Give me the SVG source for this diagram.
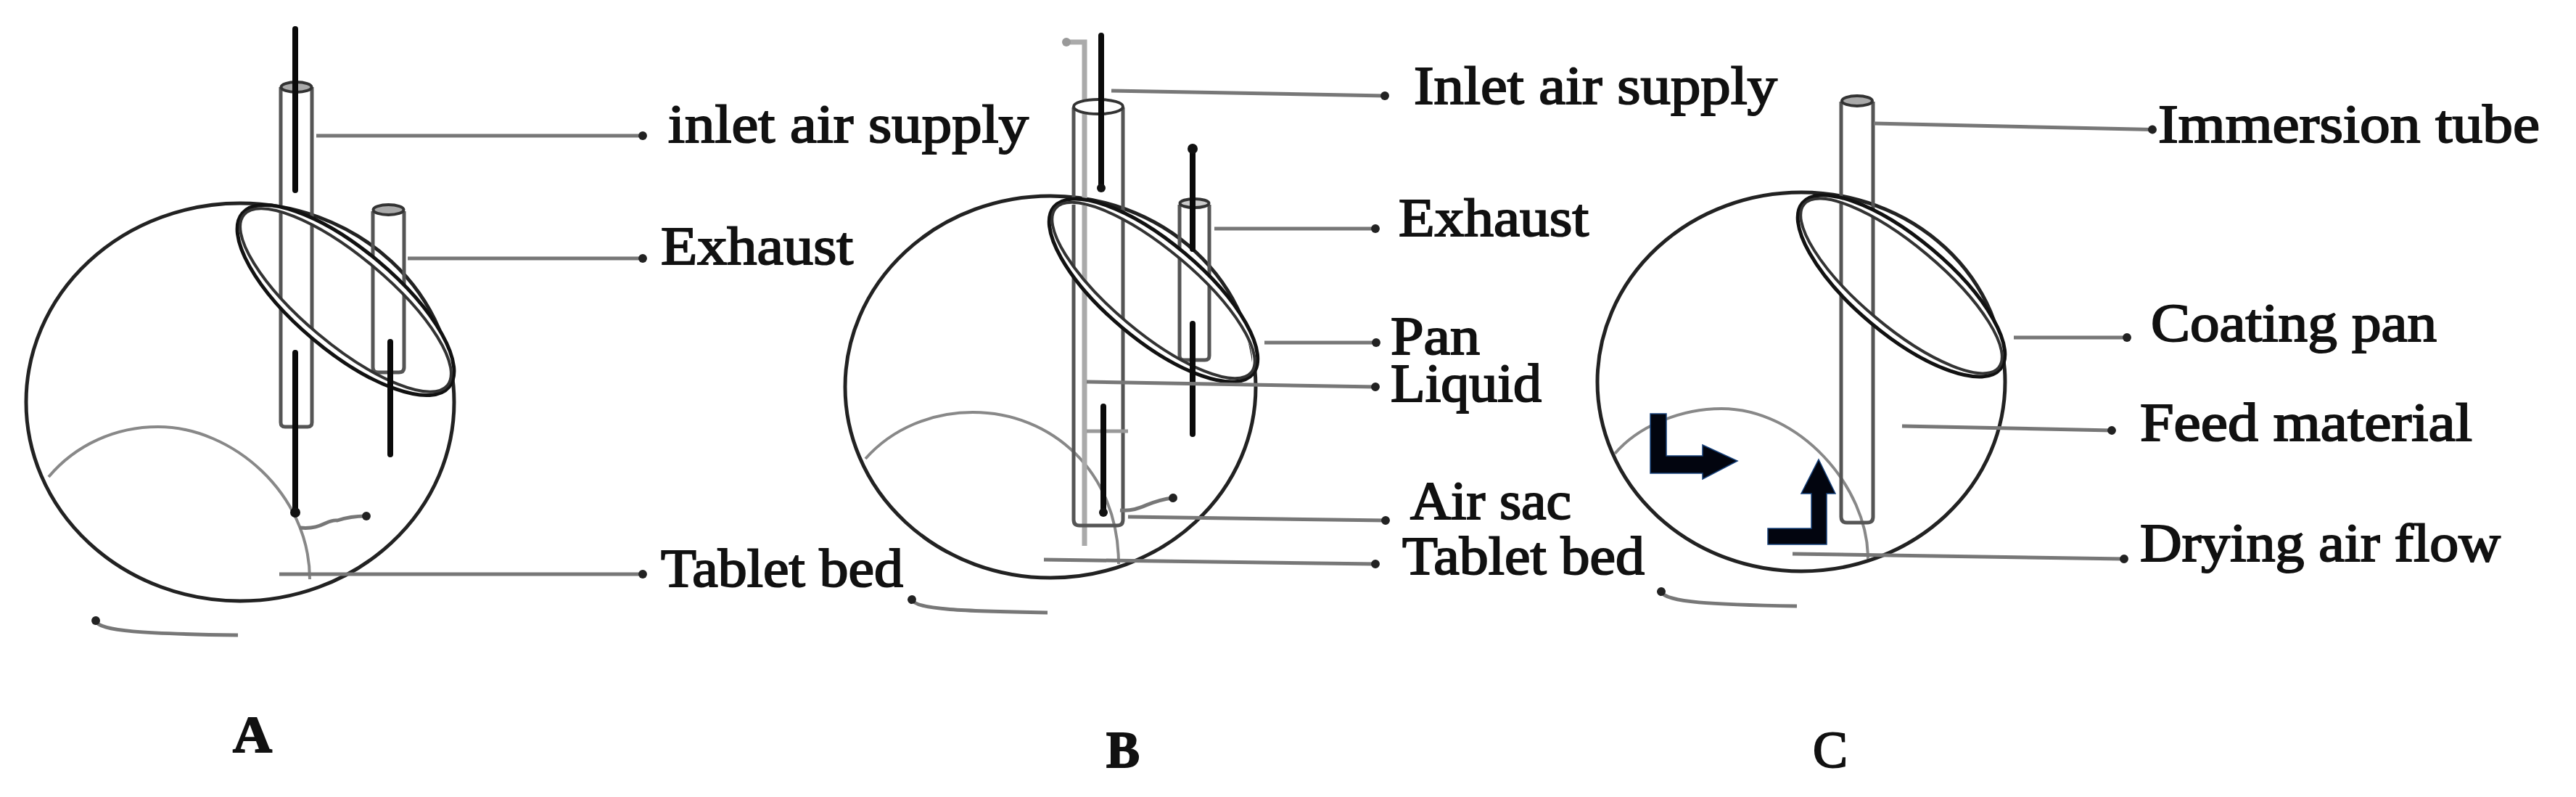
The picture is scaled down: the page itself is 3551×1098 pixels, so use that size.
<svg xmlns="http://www.w3.org/2000/svg" width="3551" height="1098" viewBox="0 0 3551 1098">
<style>
.bg{fill:#fff}
.pan{fill:none;stroke:#222;stroke-width:5}
.tube{fill:none;stroke:#555;stroke-width:5}
.cap{fill:#aaa;stroke:#333;stroke-width:4}
.rod{fill:none;stroke:#0a0a0a;stroke-width:8;stroke-linecap:round}
.arc{fill:none;stroke:#888;stroke-width:4}
.lead{fill:none;stroke:#777;stroke-width:5;marker-end:url(#dot)}
.plain{fill:none;stroke:#aaa;stroke-width:7}
.ringw{fill:none;stroke:#fff;stroke-width:9}
.ring{fill:none;stroke:#111;stroke-width:5}
.ring2{fill:none;stroke:#333;stroke-width:4}
.arrow{fill:#02050f;stroke:#16407a;stroke-width:1.500}
text{font-family:"Liberation Serif","Times New Roman",serif;font-size:74px;fill:#111;stroke:#111;stroke-width:2}
.id{font-size:72px;font-weight:bold}
</style>
<defs>
<marker id="dot" viewBox="-6 -6 12 12" markerUnits="userSpaceOnUse" markerWidth="13" markerHeight="13" refX="0" refY="0" orient="auto"><circle r="5.5" fill="#222"/></marker>
</defs>
<rect class="bg" width="3551" height="1098"/>

<g id="panel-a">
<ellipse class="pan" cx="331" cy="554" rx="295" ry="274"/>
<path class="arc" d="M67 657C105 612 160 588 218 588C320 588 427 680 427 798"/>
<path class="tube" d="M387 120V582Q387 588 393 588H424Q430 588 430 582V120"/>
<ellipse class="cap" cx="408.500" cy="120" rx="21" ry="7"/>
<path class="tube" d="M514 291V506Q514 513 521 513H550Q557 513 557 506V291"/>
<ellipse class="cap" cx="535.500" cy="289" rx="21" ry="7"/>
<g transform="translate(476.500 413.500) rotate(40)"><ellipse class="ringw" rx="183" ry="65"/><ellipse class="ring" rx="186" ry="70"/><ellipse class="ring2" rx="183" ry="60"/></g>
<path class="rod" d="M407 40V262M407 486V706M538 471V626"/>
<circle cx="407" cy="706" r="7" fill="#111"/>
</g>

<g id="panel-b">
<ellipse class="pan" cx="1448" cy="533" rx="283" ry="263"/>
<path class="arc" d="M1193 632C1230 590 1285 568 1341 568C1450 568 1542 650 1542 777"/>
<path class="plain" d="M1468 58H1495V752"/>
<circle cx="1470" cy="58" r="6" fill="#999"/>
<path class="tube" d="M1480 148V716Q1480 724 1488 724H1540Q1548 724 1548 716V148"/>
<ellipse class="cap" style="fill:#fff" cx="1514" cy="147" rx="34" ry="10"/>
<path class="tube" d="M1626 282V490Q1626 496 1632 496H1661Q1667 496 1667 490V282"/>
<ellipse class="cap" style="fill:#ccc" cx="1646.500" cy="280" rx="20" ry="6"/>
<path class="plain" style="stroke:#999;stroke-width:5" d="M1498 594H1555"/>
<g transform="translate(1590 400) rotate(40)"><ellipse class="ringw" rx="176" ry="62"/><ellipse class="ring" rx="179" ry="67"/><ellipse class="ring2" rx="176" ry="57"/></g>
<path class="rod" d="M1518 49V260M1521 560V706M1644 205V343M1644 446V598"/>
<circle cx="1644" cy="205" r="7" fill="#111"/>
<circle cx="1518" cy="259" r="6" fill="#111"/>
<circle cx="1521" cy="706" r="6" fill="#111"/>
</g>

<g id="panel-c">
<ellipse class="pan" cx="2483" cy="526" rx="281" ry="261"/>
<path class="arc" d="M2226 625C2260 585 2320 563 2373 563C2480 563 2575 670 2575 770"/>
<path class="tube" d="M2538 140V712Q2538 720 2546 720H2574Q2582 720 2582 712V140"/>
<ellipse class="cap" cx="2560" cy="139" rx="21" ry="7"/>
<g transform="translate(2621 394) rotate(40)"><ellipse class="ringw" rx="175" ry="61"/><ellipse class="ring" rx="178" ry="66"/><ellipse class="ring2" rx="175" ry="56"/></g>
<polygon class="arrow" points="2275,570 2297,570 2297,628 2347,628 2347,613 2395,635 2347,660 2347,652 2275,652"/>
<polygon class="arrow" points="2507,633 2530,680 2518,680 2518,750 2437,750 2437,728 2497,728 2497,680 2483,680"/>
</g>

<g id="connectors">
<path class="lead" d="M436 187H886"/>
<path class="lead" d="M562 356H886"/>
<path class="lead" d="M385 791H886"/>
<path class="lead" d="M413 727C445 730 450 715 465 717C480 712 490 711 505 711"/>
<path class="lead" d="M328 875C200 873 136 870 132 855"/>
<path class="lead" d="M1532 125L1909 132"/>
<path class="lead" d="M1674 315H1896"/>
<path class="lead" d="M1743 472H1897"/>
<path class="lead" d="M1498 526L1896 533"/>
<path class="lead" d="M1555 712L1910 717"/>
<path class="lead" d="M1439 771L1896 777"/>
<path class="lead" d="M1544 703C1575 705 1580 690 1617 686"/>
<path class="lead" d="M1444 844C1330 842 1262 840 1257 826"/>
<path class="lead" d="M2583 170L2967 178.500"/>
<path class="lead" d="M2776 465H2932"/>
<path class="lead" d="M2622 587L2911 593"/>
<path class="lead" d="M2471 763L2928 770"/>
<path class="lead" d="M2477 835C2360 833 2296 830 2290 815"/>
</g>

<g id="label-a-inlet"><text x="921" y="196" textLength="497" lengthAdjust="spacingAndGlyphs">inlet air supply</text></g>
<g id="label-a-exhaust"><text x="911" y="364" textLength="265" lengthAdjust="spacingAndGlyphs">Exhaust</text></g>
<g id="label-a-bed"><text x="911" y="808" textLength="334" lengthAdjust="spacingAndGlyphs">Tablet bed</text></g>
<g id="label-a"><text class="id" x="321" y="1036" textLength="54" lengthAdjust="spacingAndGlyphs">A</text></g>

<g id="label-b-inlet"><text x="1949" y="143" textLength="501" lengthAdjust="spacingAndGlyphs">Inlet air supply</text></g>
<g id="label-b-exhaust"><text x="1928" y="325" textLength="262" lengthAdjust="spacingAndGlyphs">Exhaust</text></g>
<g id="label-b-pan"><text x="1917" y="488" textLength="123" lengthAdjust="spacingAndGlyphs">Pan</text></g>
<g id="label-b-liquid"><text x="1917" y="553" textLength="208" lengthAdjust="spacingAndGlyphs">Liquid</text></g>
<g id="label-b-sac"><text x="1944" y="715" textLength="222" lengthAdjust="spacingAndGlyphs">Air sac</text></g>
<g id="label-b-bed"><text x="1933" y="791" textLength="334" lengthAdjust="spacingAndGlyphs">Tablet bed</text></g>
<g id="label-b"><text class="id" x="1525" y="1057" textLength="46" lengthAdjust="spacingAndGlyphs">B</text></g>

<g id="label-c-tube"><text x="2975" y="196" textLength="526" lengthAdjust="spacingAndGlyphs">Immersion tube</text></g>
<g id="label-c-pan"><text x="2965" y="470" textLength="394" lengthAdjust="spacingAndGlyphs">Coating pan</text></g>
<g id="label-c-feed"><text x="2950" y="607" textLength="458" lengthAdjust="spacingAndGlyphs">Feed material</text></g>
<g id="label-c-air"><text x="2950" y="773" textLength="497" lengthAdjust="spacingAndGlyphs">Drying air flow</text></g>
<g id="label-c"><text class="id" style="font-weight:normal" x="2499" y="1057" textLength="48" lengthAdjust="spacingAndGlyphs">C</text></g>
</svg>
